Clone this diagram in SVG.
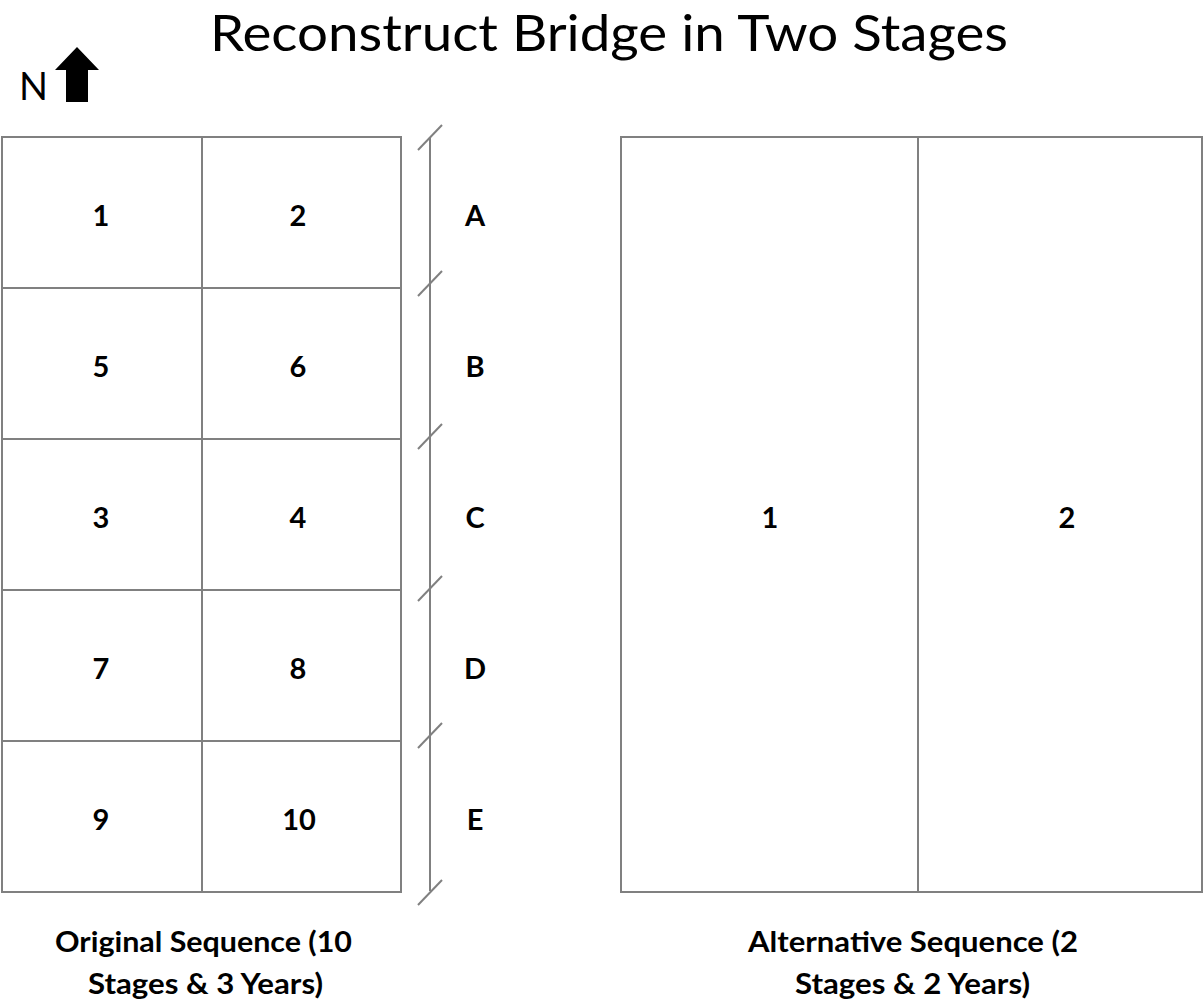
<svg xmlns="http://www.w3.org/2000/svg" width="1203" height="1002" viewBox="0 0 1203 1002">
<style>
.ln{stroke:#808080;stroke-width:2;fill:none}
.num{font-family:Lato,"Open Sans",sans-serif;font-weight:bold;font-size:29px;fill:#000;text-anchor:middle}
.cap{font-family:Lato,"Open Sans",sans-serif;font-weight:bold;font-size:29px;fill:#000}
.title{font-family:Lato,"Open Sans",sans-serif;font-size:50px;fill:#000}
</style>
<rect width="1203" height="1002" fill="#fff"/>
<text class="title" x="210" y="51" textLength="798" lengthAdjust="spacingAndGlyphs">Reconstruct Bridge in Two Stages</text>
<g id="north">
<text x="19" y="100" font-family="Lato,'Open Sans',sans-serif" font-size="38" textLength="29" lengthAdjust="spacingAndGlyphs">N</text>
<polygon points="77,47 99,70 88,70 88,102 66,102 66,70 55,70" fill="#000"/>
</g>
<g id="original">
<rect class="ln" x="2" y="137" width="399" height="755"/>
<line class="ln" x1="202" y1="137" x2="202" y2="892"/>
<line class="ln" x1="2" y1="288" x2="401" y2="288"/>
<line class="ln" x1="2" y1="439" x2="401" y2="439"/>
<line class="ln" x1="2" y1="590" x2="401" y2="590"/>
<line class="ln" x1="2" y1="741" x2="401" y2="741"/>
<text class="num" x="101" y="226">1</text>
<text class="num" x="298" y="226">2</text>
<text class="num" x="101" y="377">5</text>
<text class="num" x="298" y="377">6</text>
<text class="num" x="101" y="528">3</text>
<text class="num" x="298" y="528">4</text>
<text class="num" x="101" y="679">7</text>
<text class="num" x="298" y="679">8</text>
<text class="num" x="101" y="830">9</text>
<text class="num" x="299" y="830">10</text>
</g>
<g id="sections">
<line class="ln" x1="430" y1="137" x2="430" y2="891"/>
<line class="ln" x1="418" y1="150" x2="442" y2="125" stroke-width="1.5"/>
<line class="ln" x1="418" y1="296" x2="442" y2="271" stroke-width="1.5"/>
<line class="ln" x1="418" y1="449" x2="442" y2="424" stroke-width="1.5"/>
<line class="ln" x1="418" y1="601" x2="442" y2="576" stroke-width="1.5"/>
<line class="ln" x1="418" y1="748" x2="442" y2="723" stroke-width="1.5"/>
<line class="ln" x1="418" y1="905" x2="442" y2="880" stroke-width="1.5"/>
<text class="num" x="475" y="226">A</text>
<text class="num" x="475" y="377">B</text>
<text class="num" x="475" y="528">C</text>
<text class="num" x="475" y="679">D</text>
<text class="num" x="475" y="830">E</text>
</g>
<g id="alternative">
<rect class="ln" x="621" y="137" width="581" height="755"/>
<line class="ln" x1="918" y1="137" x2="918" y2="892"/>
<text class="num" x="770" y="528">1</text>
<text class="num" x="1067" y="528">2</text>
</g>
<g id="captions">
<text class="cap" x="55" y="952" textLength="297" lengthAdjust="spacingAndGlyphs">Original Sequence (10</text>
<text class="cap" x="88" y="994" textLength="235" lengthAdjust="spacingAndGlyphs">Stages &amp; 3 Years)</text>
<text class="cap" x="748" y="952" textLength="330" lengthAdjust="spacingAndGlyphs">Alternative Sequence (2</text>
<text class="cap" x="795" y="994" textLength="235" lengthAdjust="spacingAndGlyphs">Stages &amp; 2 Years)</text>
</g>
</svg>
